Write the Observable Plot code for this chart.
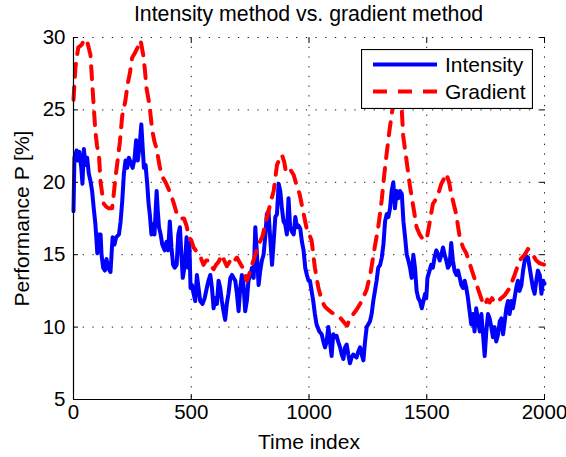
<!DOCTYPE html>
<html>
<head>
<meta charset="utf-8">
<script src="https://cdn.jsdelivr.net/npm/d3@7"></script>
<script src="https://cdn.jsdelivr.net/npm/@observablehq/plot@0.6"></script>
<style>
  html, body { margin: 0; padding: 0; background: #fff; }
  #wrap { position: relative; width: 566px; height: 457px; font-family: 'Liberation Sans', Arial, sans-serif; }
  #title { position: absolute; left: 73px; width: 471px; top: 4px; text-align: center; font-size: 21.3px; line-height: 21px; color: #000; white-space: nowrap; }
  #legend { position: absolute; left: 361px; top: 49px; }
</style>
</head>
<body>
<div id="wrap">
  <div id="chart"></div>
  <div id="title"></div>
  <svg id="legend" width="172" height="60"></svg>
</div>
<script>
const titleText = "Intensity method vs. gradient method";
const xLabel = "Time index";
const yLabel = "Performance P [%]";
const seriesNames = ["Intensity", "Gradient"];
const seriesColors = ["#0000ff", "#ff0000"];
const xTicks = [0, 500, 1000, 1500, 2000];
const yTicks = [5, 10, 15, 20, 25, 30];

const intensityX = [0,4,13,18,25,33,38,44,51,58,65,72,79,86,93,98,101,108,115,119,126,133,140,147,157,166,174,181,193,200,207,214,221,228,235,242,251,259,266,273,280,288,293,299,306,313,319,324,331,337,344,353,358,363,370,377,387,395,402,409,416,423,430,438,445,452,457,464,473,480,487,492,497,503,510,517,524,531,538,548,557,566,573,581,588,595,602,609,616,623,630,637,644,651,658,666,673,680,687,694,701,708,715,722,729,736,743,751,758,765,772,779,786,793,800,807,814,821,828,835,843,850,857,864,871,878,885,892,899,906,913,920,927,935,942,949,956,963,970,977,984,991,998,1004,1011,1018,1025,1032,1044,1054,1061,1068,1075,1082,1089,1096,1103,1110,1117,1124,1132,1139,1146,1153,1160,1167,1174,1181,1188,1195,1202,1209,1217,1224,1231,1238,1245,1252,1259,1266,1273,1280,1287,1294,1302,1309,1316,1323,1330,1337,1344,1351,1358,1365,1372,1379,1386,1394,1401,1408,1415,1422,1429,1436,1443,1450,1457,1464,1471,1479,1486,1493,1498,1503,1512,1519,1526,1533,1541,1548,1555,1562,1569,1576,1583,1590,1597,1604,1611,1618,1626,1633,1640,1647,1654,1661,1668,1675,1682,1689,1696,1703,1710,1718,1725,1732,1739,1746,1753,1760,1767,1774,1781,1788,1795,1803,1810,1817,1824,1831,1838,1845,1852,1859,1866,1873,1880,1887,1894,1902,1909,1916,1923,1930,1937,1944,1951,1958,1965,1972,1980,1987,1994,2000];
const intensityY = [18.0,21.7,22.2,21.5,22.1,21.0,19.9,22.3,21.2,21.7,20.6,20.1,19.4,18.2,17.1,15.9,15.1,16.4,16.4,15.0,14.1,13.9,14.7,14.1,13.8,16.2,15.7,16.2,16.4,17.3,18.7,20.6,21.5,21.0,21.7,21.4,21.0,21.6,22.9,21.5,22.4,24.0,22.6,21.0,21.2,19.9,18.5,17.8,16.4,17.1,16.4,19.4,18.0,16.9,16.4,15.7,15.3,15.9,15.3,17.3,15.5,14.3,14.1,14.3,16.4,16.9,15.3,13.4,14.3,16.2,14.1,15.8,12.7,12.9,12.3,11.8,13.6,12.7,11.8,11.6,12.0,12.7,13.2,13.6,12.7,11.3,12.0,11.6,13.2,12.7,11.8,11.1,10.5,11.6,12.3,13.4,13.6,13.4,13.2,12.3,11.1,12.7,13.6,12.9,11.1,11.8,13.2,13.6,14.1,13.4,16.9,15.0,12.9,13.9,14.6,15.0,16.2,17.8,18.0,16.2,14.3,15.9,17.6,17.8,19.9,19.4,18.2,17.3,17.1,16.4,18.9,16.9,16.6,16.4,17.6,16.9,17.0,16.8,15.9,15.3,14.1,13.6,13.2,13.2,12.5,11.8,10.9,10.2,9.7,9.5,9.0,8.6,9.0,10.0,9.0,8.0,9.5,9.3,9.4,9.0,8.6,8.1,7.8,8.6,8.8,8.1,7.5,7.9,8.1,8.0,7.9,8.3,8.6,8.1,7.7,9.0,10.0,10.2,10.4,10.9,11.8,12.5,13.2,14.1,14.3,14.8,15.7,17.3,17.8,17.6,18.2,19.4,20.0,18.2,19.4,18.9,19.4,19.2,17.3,16.2,15.0,14.6,14.1,13.4,15.0,14.1,12.5,12.0,11.8,11.3,11.8,12.3,12.0,13.4,13.9,14.3,14.1,14.8,15.3,15.0,14.6,15.0,15.5,15.0,14.6,14.1,14.3,15.8,14.6,13.9,13.6,13.9,13.4,12.9,12.7,13.2,12.7,12.0,11.1,10.2,10.9,9.7,11.3,10.4,9.7,10.9,9.5,8.0,9.7,10.9,10.6,10.0,9.3,10.0,9.0,9.5,10.4,10.6,9.5,10.4,11.3,11.8,10.9,11.8,11.3,12.0,12.7,13.2,12.5,12.9,13.9,14.6,14.9,14.8,14.1,13.4,12.7,12.3,13.2,13.9,13.6,12.3,13.2,13.0];

const gradientX = [0,8,20,35,47,60,72,79,86,93,100,108,115,122,129,140,150,164,171,178,185,197,207,220,230,239,249,263,275,285,296,303,310,323,334,344,353,367,380,391,402,412,425,441,455,469,480,490,500,510,524,538,552,563,573,584,595,605,616,630,640,651,662,673,684,694,708,722,729,736,745,758,772,786,803,817,831,840,850,864,875,885,895,902,912,920,935,949,960,970,980,990,998,1011,1025,1040,1055,1068,1082,1096,1110,1124,1140,1153,1162,1174,1188,1202,1224,1245,1262,1280,1294,1309,1320,1330,1341,1354,1365,1375,1385,1394,1400,1415,1429,1443,1457,1470,1478,1490,1500,1512,1526,1545,1562,1575,1583,1595,1604,1625,1640,1654,1668,1682,1696,1710,1725,1735,1746,1757,1767,1777,1788,1800,1810,1831,1852,1873,1894,1916,1930,1937,1950,1965,1980,2000];
const gradientY = [25.7,27.9,29.3,29.5,29.9,29.6,28.8,27.0,25.2,23.5,22.5,21.9,20.0,19.2,18.5,18.3,18.2,18.2,19.2,20.3,21.2,22.8,24.6,25.6,26.8,27.5,28.6,29.0,29.4,29.8,28.8,27.8,26.5,25.3,23.6,22.8,22.3,21.0,20.3,20.0,19.6,19.2,18.6,17.7,17.5,17.5,17.0,16.2,16.0,15.5,15.2,14.9,14.3,14.6,14.6,14.2,14.0,14.3,14.5,15.0,14.6,14.2,14.5,14.8,14.6,14.8,14.4,14.0,13.6,13.2,13.6,14.3,15.0,15.7,16.3,17.3,18.2,18.8,19.4,21.2,21.6,21.9,21.4,20.7,20.8,20.9,20.5,19.7,19.2,18.4,17.6,16.8,16.5,16.0,14.1,12.7,11.8,11.4,11.2,11.0,10.9,10.8,10.5,10.25,10.1,10.6,10.9,11.2,11.8,12.6,13.8,15.6,16.9,18.8,20.6,22.0,23.5,25.0,26.5,27.2,26.5,25.0,23.2,21.4,19.7,18.3,16.9,16.4,16.2,16.0,16.1,17.2,18.5,19.0,19.9,20.3,20.6,20.0,19.2,17.8,16.2,15.5,15.1,14.4,13.7,13.0,12.3,11.8,11.5,11.9,11.7,12.0,11.7,11.9,11.9,12.2,12.7,13.6,14.6,15.0,15.4,15.3,15.0,14.6,14.4,14.3];

const intensity = intensityX.map((x, i) => ({x, y: intensityY[i]}));
const gradient = gradientX.map((x, i) => ({x, y: gradientY[i]}));

const font = "'Liberation Sans', Arial, sans-serif";
const gridStyle = {stroke: "#000", strokeOpacity: 0.9, strokeWidth: 1, strokeDasharray: "1.3,8.4"};
const fmt = d3.format("d");

const chart = Plot.plot({
  width: 566,
  height: 457,
  marginLeft: 73,
  marginRight: 22,
  marginTop: 37,
  marginBottom: 58,
  style: {fontFamily: font, fontSize: "21px", color: "#000", background: "#fff", overflow: "visible"},
  x: {domain: [0, 2000]},
  y: {domain: [5, 30]},
  marks: [
    Plot.gridX(xTicks.slice(1), gridStyle),
    Plot.gridY(yTicks.slice(1), gridStyle),
    Plot.line(intensity, {x: "x", y: "y", stroke: seriesColors[0], strokeWidth: 4, strokeLinejoin: "round"}),
    Plot.line(gradient, {x: "x", y: "y", stroke: seriesColors[1], strokeWidth: 4, strokeDasharray: "13,10", strokeLinejoin: "round"}),
    Plot.ruleX([0], {stroke: "#000", strokeWidth: 1.2}),
    Plot.ruleY([5], {stroke: "#000", strokeWidth: 1.2}),
    Plot.axisX(xTicks, {anchor: "bottom", tickSize: -5, text: null, label: null, stroke: "#000"}),
    Plot.axisX(xTicks, {anchor: "top", tickSize: -5, text: null, label: null, stroke: "#000"}),
    Plot.axisY(yTicks, {anchor: "left", tickSize: -5, text: null, label: null, stroke: "#000"}),
    Plot.axisY(yTicks, {anchor: "right", tickSize: -5, text: null, label: null, stroke: "#000"}),
    Plot.axisX(xTicks, {anchor: "bottom", tickSize: 0, tickPadding: 5, fontSize: 20.5, label: null, tickFormat: fmt}),
    Plot.axisY(yTicks, {anchor: "left", tickSize: 0, tickPadding: 8, fontSize: 20.5, label: null, tickFormat: fmt}),
    Plot.text([xLabel], {frameAnchor: "bottom", dy: 43, lineAnchor: "middle", fontSize: 21})
    ,Plot.text([yLabel], {frameAnchor: "left", dx: -51, rotate: -90, lineAnchor: "middle", textAnchor: "middle", fontSize: 21})
  ]
});
document.getElementById("chart").appendChild(chart);
document.getElementById("title").textContent = titleText;

// legend
const lg = d3.select("#legend");
lg.append("rect").attr("x", 0.5).attr("y", 0.5).attr("width", 171).attr("height", 59)
  .attr("fill", "#fff").attr("stroke", "#000").attr("stroke-width", 1.2);
const rows = seriesNames.map((name, i) => ({name, color: seriesColors[i], dash: i === 1 ? "14,11" : null, row: i}));
rows.forEach(r => {
  const yy = 15.5 + r.row * 27;
  lg.append("line").attr("x1", 12).attr("x2", 76).attr("y1", yy).attr("y2", yy)
    .attr("stroke", r.color).attr("stroke-width", 4).attr("stroke-dasharray", r.dash);
  lg.append("text").attr("x", 84).attr("y", yy + 7.5).attr("font-family", font).attr("font-size", 21)
    .attr("fill", "#000").text(r.name);
});
</script>
</body>
</html>
